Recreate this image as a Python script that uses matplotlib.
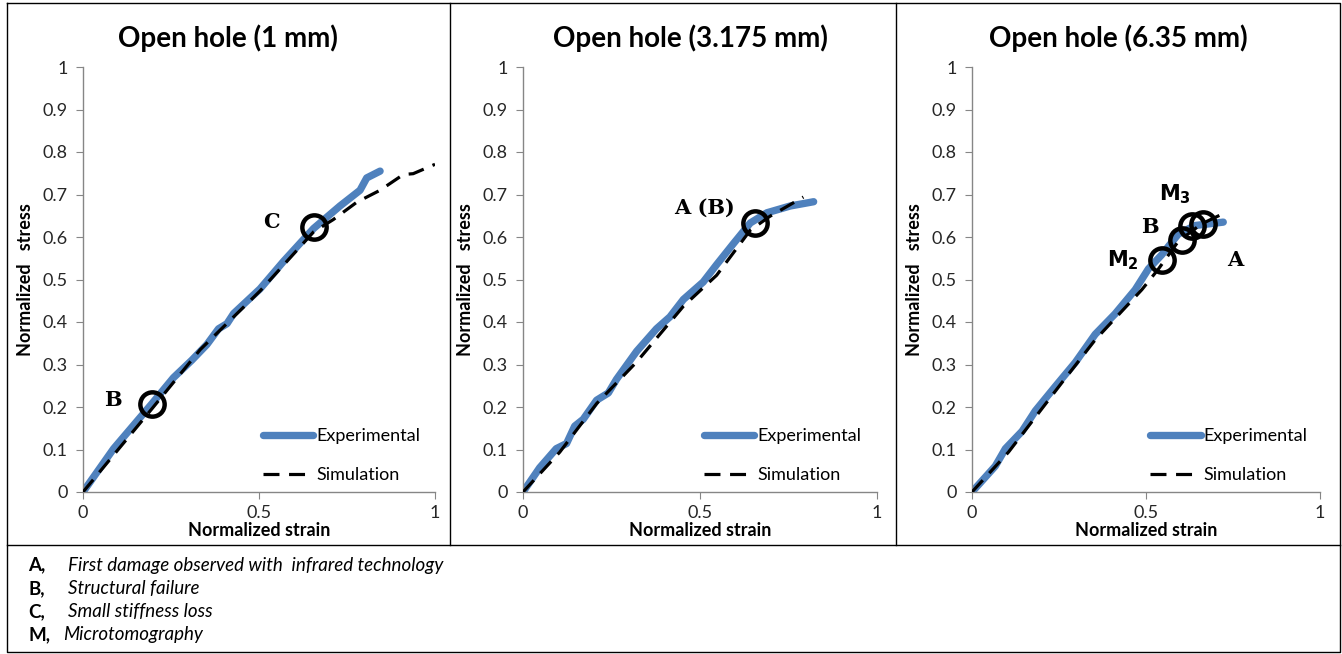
import numpy as np
import matplotlib
matplotlib.use('Agg')
import matplotlib.pyplot as plt
from matplotlib.lines import Line2D

plt.rcParams['font.family'] = ['Lato', 'DejaVu Sans']

# ---- data ----
titles = ['Open hole (1 mm)', 'Open hole (3.175 mm)', 'Open hole (6.35 mm)']

exp1_x = [0, 0.087, 0.196, 0.257, 0.309, 0.352, 0.385, 0.409, 0.428, 0.503, 0.570, 0.655, 0.730, 0.787, 0.806, 0.844]
exp1_y = [0, 0.102, 0.208, 0.269, 0.310, 0.347, 0.384, 0.396, 0.420, 0.478, 0.543, 0.620, 0.673, 0.710, 0.739, 0.755]
sim1_x = [0, 0.196, 0.333, 0.503, 0.655, 0.711, 0.778, 0.844, 0.910, 0.938, 1.0]
sim1_y = [0, 0.196, 0.335, 0.473, 0.612, 0.641, 0.682, 0.710, 0.747, 0.749, 0.771]

exp2_x = [0, 0.047, 0.094, 0.123, 0.146, 0.170, 0.208, 0.241, 0.264, 0.321, 0.377, 0.415, 0.453, 0.509, 0.547, 0.594, 0.642, 0.689, 0.755, 0.821]
exp2_y = [0, 0.057, 0.102, 0.114, 0.155, 0.171, 0.216, 0.233, 0.265, 0.331, 0.384, 0.412, 0.453, 0.494, 0.535, 0.584, 0.633, 0.657, 0.673, 0.683]
sim2_x = [0, 0.104, 0.208, 0.321, 0.453, 0.547, 0.642, 0.698, 0.792]
sim2_y = [0, 0.094, 0.208, 0.306, 0.437, 0.510, 0.616, 0.649, 0.694]

exp3_x = [0, 0.067, 0.096, 0.144, 0.182, 0.239, 0.297, 0.354, 0.411, 0.469, 0.507, 0.545, 0.593, 0.641, 0.722]
exp3_y = [0, 0.061, 0.102, 0.143, 0.191, 0.248, 0.305, 0.371, 0.419, 0.476, 0.525, 0.558, 0.607, 0.627, 0.635]
sim3_x = [0, 0.105, 0.258, 0.354, 0.488, 0.536, 0.593, 0.660, 0.727]
sim3_y = [0, 0.094, 0.257, 0.358, 0.476, 0.525, 0.590, 0.631, 0.657]

# damage markers (circles) and their labels
mark1_x = [0.196, 0.657]
mark1_y = [0.207, 0.623]
lab1 = [('B', 0.085, 0.216), ('C', 0.534, 0.635)]

mark2_x = [0.656]
mark2_y = [0.633]
lab2 = [('A (B)', 0.514, 0.668)]

mark3_x = [0.545, 0.603, 0.632, 0.665]
mark3_y = [0.546, 0.594, 0.627, 0.631]
lab3 = [(r'$\mathbf{M_2}$', 0.435, 0.546), ('B', 0.512, 0.623),
        (r'$\mathbf{M_3}$', 0.584, 0.700), ('A', 0.756, 0.546)]

notes = [('A,', 'First damage observed with  infrared technology'),
         ('B,', 'Structural failure'),
         ('C,', 'Small stiffness loss'),
         ('M,', 'Microtomography')]

panels = [
    (exp1_x, exp1_y, sim1_x, sim1_y, mark1_x, mark1_y, lab1),
    (exp2_x, exp2_y, sim2_x, sim2_y, mark2_x, mark2_y, lab2),
    (exp3_x, exp3_y, sim3_x, sim3_y, mark3_x, mark3_y, lab3),
]

W, H = 1342, 654
fig = plt.figure(figsize=(W / 100, H / 100), dpi=100)

# axes placement in pixels: (x0, x1), title centre
ax_px = [(83, 435), (523, 877), (972, 1320)]
title_cx = [228, 690, 1118]
y0_px, y1_px = 492, 67

blue = '#4F81BD'
grey = '#868686'

for i, (ex, ey, sx, sy, mx, my, labs) in enumerate(panels):
    x0, x1 = ax_px[i]
    ax = fig.add_axes([x0 / W, (H - y0_px) / H, (x1 - x0) / W, (y0_px - y1_px) / H])
    ax.plot(ex, ey, color=blue, lw=5.3, solid_capstyle='round', label='Experimental', zorder=2)
    ax.plot(sx, sy, color='black', lw=2.3, dashes=(5, 3), label='Simulation', zorder=3)
    ax.plot(mx, my, 'o', ms=17.5, mfc='none', mec='black', mew=3.2, zorder=4)
    for txt, tx, ty in labs:
        ax.text(tx, ty, txt, fontsize=15, fontweight='bold', family='DejaVu Serif',
                ha='center', va='center')
    ax.set_xlim(0, 1)
    ax.set_ylim(0, 1)
    ax.set_xticks([0, 0.5, 1])
    ax.set_xticklabels(['0', '0.5', '1'])
    ax.set_yticks(np.arange(0, 1.01, 0.1))
    ax.set_yticklabels(['0'] + [f'{v:.1f}' for v in np.arange(0.1, 0.95, 0.1)] + ['1'])
    for s in ['top', 'right']:
        ax.spines[s].set_visible(False)
    for s in ['left', 'bottom']:
        ax.spines[s].set_color(grey)
        ax.spines[s].set_linewidth(1)
    ax.tick_params(colors=grey, labelcolor='#262626', labelsize=13, length=5, direction='out')
    ax.tick_params(axis='x', pad=4)
    ax.tick_params(axis='y', pad=6)
    ax.set_xlabel('Normalized strain', fontsize=13, fontweight='bold', labelpad=1)
    ax.set_ylabel('Normalized   stress', fontsize=13, fontweight='bold', labelpad=6)
    fig.text(title_cx[i] / W, 1 - 38 / H, titles[i], fontsize=20, fontweight='bold',
             ha='center', va='center')
    ax.legend(loc='lower left', bbox_to_anchor=(0.465, -0.018), frameon=False,
              fontsize=13, handlelength=2.8, handletextpad=0.15, labelspacing=1.3)

# frame lines
def fline(xs, ys, **kw):
    fig.add_artist(Line2D([x / W for x in xs], [1 - y / H for y in ys],
                          color='black', lw=1, **kw))

fline([7, 1340, 1340, 7, 7], [3, 3, 652, 652, 3])
fline([7, 1340], [545, 545])
fline([450, 450], [3, 545])
fline([896, 896], [3, 545])

for k, (key, desc) in enumerate(notes):
    yy = 565 + k * 23.3
    fig.text(28 / W, 1 - yy / H, key, fontsize=13.5, fontweight='bold', va='center')
    fig.text((68 if key != 'M,' else 63) / W, 1 - yy / H, desc, fontsize=13.5,
             style='italic', va='center')

fig.savefig('out.png', dpi=100)
